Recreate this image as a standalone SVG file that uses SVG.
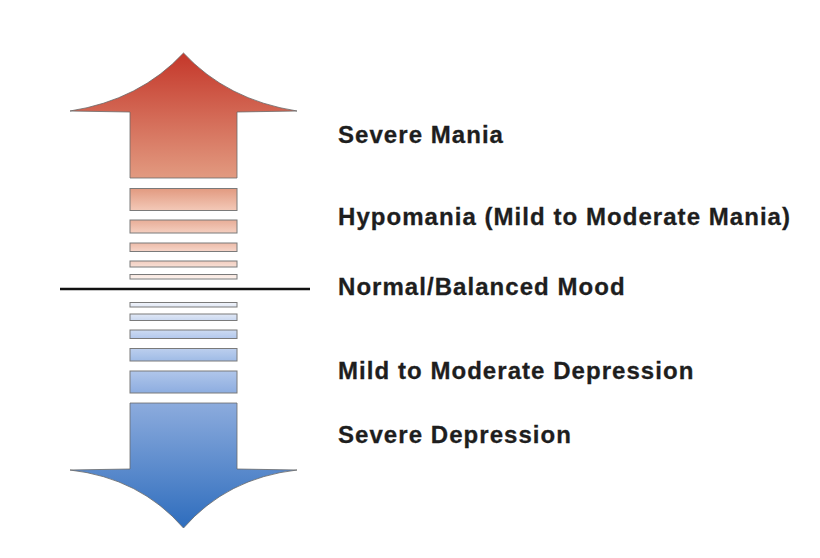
<svg xmlns="http://www.w3.org/2000/svg" width="820" height="558" viewBox="0 0 820 558">
<style>
.lbl{font-family:"Liberation Sans",Arial,sans-serif;font-weight:bold;font-size:24px;letter-spacing:1.05px;fill:#1e1e1e;stroke:#1e1e1e;stroke-width:0.3}
.bar{stroke:#7a7a7a;stroke-width:1}
.arr{stroke:#6a6a6a;stroke-width:0.8}
</style>
<defs>
<linearGradient id="gUp" gradientUnits="userSpaceOnUse" x1="0" y1="53" x2="0" y2="178"><stop offset="0" stop-color="#c4372a"/><stop offset="1" stop-color="#e29a80"/></linearGradient>
<linearGradient id="gDn" gradientUnits="userSpaceOnUse" x1="0" y1="403" x2="0" y2="528"><stop offset="0" stop-color="#8cabdd"/><stop offset="1" stop-color="#2e6dbd"/></linearGradient>
<linearGradient id="r1" x1="0" y1="0" x2="0" y2="1"><stop offset="0" stop-color="#e29a80"/><stop offset="1" stop-color="#f3c9b8"/></linearGradient>
<linearGradient id="r2" x1="0" y1="0" x2="0" y2="1"><stop offset="0" stop-color="#e8ad97"/><stop offset="1" stop-color="#f5cfc0"/></linearGradient>
<linearGradient id="r3" x1="0" y1="0" x2="0" y2="1"><stop offset="0" stop-color="#edbba8"/><stop offset="1" stop-color="#f6d6ca"/></linearGradient>
<linearGradient id="r4" x1="0" y1="0" x2="0" y2="1"><stop offset="0" stop-color="#f2cdbf"/><stop offset="1" stop-color="#f8e0d6"/></linearGradient>
<linearGradient id="r5" x1="0" y1="0" x2="0" y2="1"><stop offset="0" stop-color="#f8e6de"/><stop offset="1" stop-color="#fdf3ef"/></linearGradient>
<linearGradient id="b1" x1="0" y1="0" x2="0" y2="1"><stop offset="0" stop-color="#f0f3fa"/><stop offset="1" stop-color="#e2e9f6"/></linearGradient>
<linearGradient id="b2" x1="0" y1="0" x2="0" y2="1"><stop offset="0" stop-color="#e0e8f6"/><stop offset="1" stop-color="#cad8f0"/></linearGradient>
<linearGradient id="b3" x1="0" y1="0" x2="0" y2="1"><stop offset="0" stop-color="#cddbf2"/><stop offset="1" stop-color="#b3c8ec"/></linearGradient>
<linearGradient id="b4" x1="0" y1="0" x2="0" y2="1"><stop offset="0" stop-color="#bccfee"/><stop offset="1" stop-color="#9fbbe6"/></linearGradient>
<linearGradient id="b5" x1="0" y1="0" x2="0" y2="1"><stop offset="0" stop-color="#b0c6ea"/><stop offset="1" stop-color="#8dade0"/></linearGradient>
</defs>
<rect width="820" height="558" fill="#ffffff"/>
<g id="arrow-up">
<path class="arr" fill="url(#gUp)" d="M183.5,53 Q227,100 297,111 L237,112 L237,178 L130,178 L130,112 L70,111 Q140,100 183.5,53 Z"/>
</g>
<g id="mania-bars">
<rect class="bar" x="130" y="188.5" width="107" height="22" fill="url(#r1)"/>
<rect class="bar" x="130" y="220" width="107" height="13" fill="url(#r2)"/>
<rect class="bar" x="130" y="243" width="107" height="8.5" fill="url(#r3)"/>
<rect class="bar" x="130" y="261" width="107" height="6" fill="url(#r4)"/>
<rect class="bar" x="130" y="274.5" width="107" height="4.5" fill="url(#r5)"/>
</g>
<g id="baseline">
<line x1="60" y1="289" x2="310" y2="289" stroke="#111" stroke-width="2.5"/>
</g>
<g id="depression-bars">
<rect class="bar" x="130" y="302.5" width="107" height="4.5" fill="url(#b1)"/>
<rect class="bar" x="130" y="314" width="107" height="6.5" fill="url(#b2)"/>
<rect class="bar" x="130" y="330" width="107" height="8.5" fill="url(#b3)"/>
<rect class="bar" x="130" y="348.5" width="107" height="12.5" fill="url(#b4)"/>
<rect class="bar" x="130" y="371" width="107" height="22" fill="url(#b5)"/>
</g>
<g id="arrow-down">
<path class="arr" fill="url(#gDn)" d="M130,403 L237,403 L237,469 L297,470 Q227,478 183.5,528 Q140,478 70,470 L130,469 Z"/>
</g>
<g id="labels">
<text id="lbl-severe-mania" class="lbl" x="338" y="143">Severe Mania</text>
<text id="lbl-hypomania" class="lbl" x="338" y="225">Hypomania (Mild to Moderate Mania)</text>
<text id="lbl-normal" class="lbl" x="338" y="295">Normal/Balanced Mood</text>
<text id="lbl-mild-dep" class="lbl" x="338" y="379">Mild to Moderate Depression</text>
<text id="lbl-severe-dep" class="lbl" x="338" y="443">Severe Depression</text>
</g>
</svg>
